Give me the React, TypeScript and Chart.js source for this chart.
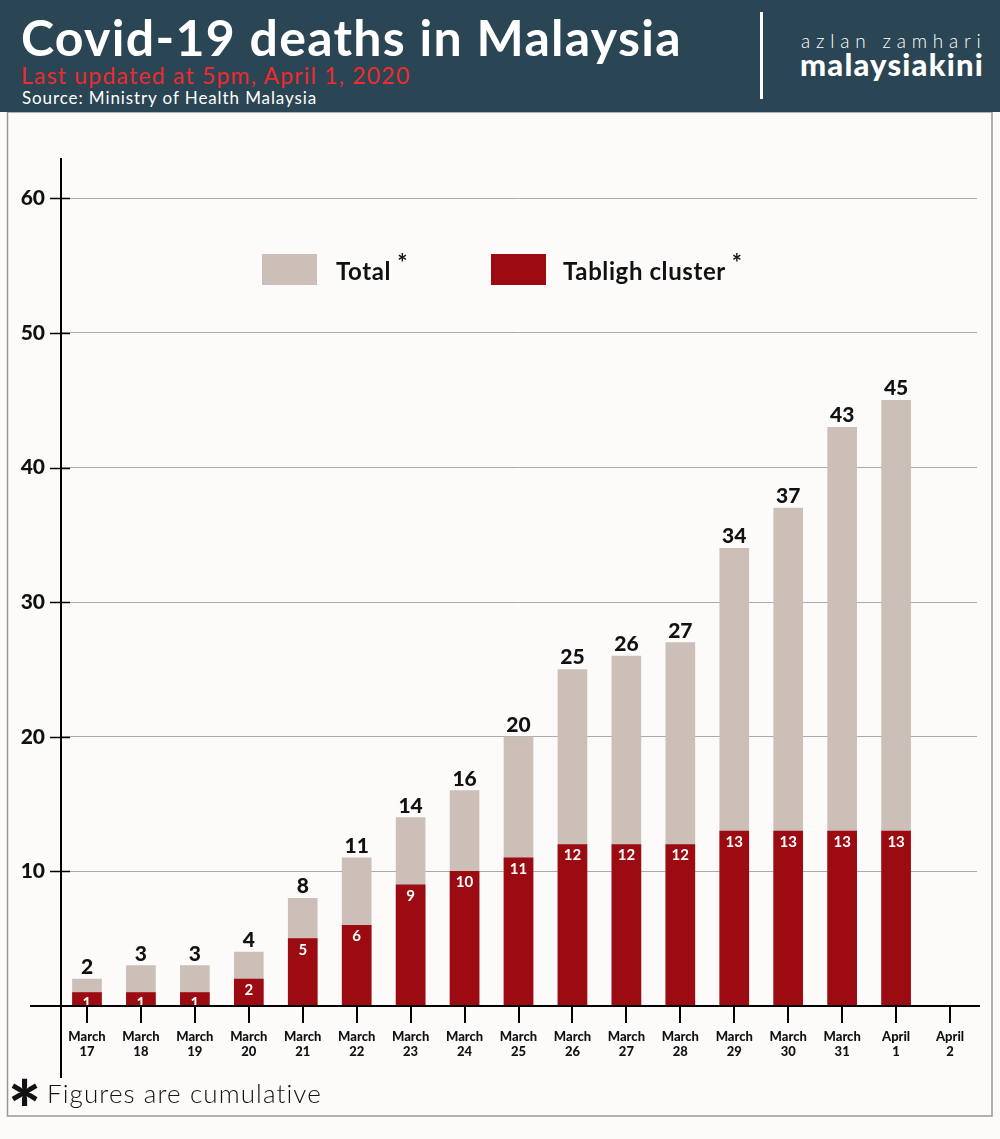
import React, { useEffect, useRef } from "react";
import { Chart, registerables } from "chart.js";

Chart.register(...registerables);

const months = ["March", "March", "March", "March", "March", "March", "March", "March", "March", "March", "March", "March", "March", "March", "March", "April", "April"];
const days = ["17", "18", "19", "20", "21", "22", "23", "24", "25", "26", "27", "28", "29", "30", "31", "1", "2"];
const totalDeaths = [2, 3, 3, 4, 8, 11, 14, 16, 20, 25, 26, 27, 34, 37, 43, 45, null];
const tablighDeaths = [1, 1, 1, 2, 5, 6, 9, 10, 11, 12, 12, 12, 13, 13, 13, 13, null];
const yTicks = [0, 10, 20, 30, 40, 50, 60];

const FONT = "Lato, 'Open Sans', sans-serif";
const GREY = "#cbbfb8";
const RED = "#9b0b11";

const overlayPlugin = {
  id: "overlay",
  beforeDraw(chart: any) {
    const ctx = chart.ctx;
    ctx.save();
    ctx.strokeStyle = "#999";
    ctx.lineWidth = 1.5;
    ctx.strokeRect(7.5, 112, 984.5, 1004);
    ctx.restore();
  },
  afterDatasetsDraw(chart: any) {
    const ctx = chart.ctx;
    const metaT = chart.getDatasetMeta(1);
    const metaR = chart.getDatasetMeta(0);
    ctx.save();
    ctx.textAlign = "center";
    metaT.data.forEach((bar: any, i: number) => {
      const v = totalDeaths[i];
      if (v == null) return;
      ctx.fillStyle = "#111";
      ctx.font = `900 21px ${FONT}`;
      ctx.textBaseline = "alphabetic";
      ctx.fillText(String(v), bar.x, bar.y - 5);
    });
    metaR.data.forEach((bar: any, i: number) => {
      const v = tablighDeaths[i];
      if (v == null) return;
      ctx.fillStyle = "#fff";
      ctx.font = `bold 15px ${FONT}`;
      ctx.textBaseline = "middle";
      ctx.fillText(String(v), bar.x, bar.y + 11);
    });
    ctx.restore();
  },
  afterDraw(chart: any) {
    const ctx = chart.ctx;
    const { left, bottom, top } = chart.chartArea;
    const x = chart.scales.x;
    const y = chart.scales.y;
    ctx.save();
    ctx.strokeStyle = "#000";
    ctx.lineWidth = 2;
    ctx.beginPath();
    ctx.moveTo(left + 1, top);
    ctx.lineTo(left + 1, 1078);
    ctx.stroke();
    ctx.beginPath();
    ctx.moveTo(30, bottom);
    ctx.lineTo(980, bottom);
    ctx.stroke();
    yTicks.forEach((t) => {
      if (t === 0) return;
      const py = Math.round(y.getPixelForValue(t)) + 0.5;
      ctx.lineWidth = 1.5;
      ctx.beginPath();
      ctx.moveTo(50, py);
      ctx.lineTo(70, py);
      ctx.stroke();
    });
    ctx.lineWidth = 2;
    days.forEach((_, i) => {
      const px = Math.round(x.getPixelForValue(i));
      ctx.beginPath();
      ctx.moveTo(px, bottom);
      ctx.lineTo(px, bottom + 17);
      ctx.stroke();
    });
    const ds = chart.data.datasets;
    const items = [
      { d: ds[1], box: 262, text: 336 },
      { d: ds[0], box: 491, text: 563 },
    ];
    items.forEach((it) => {
      ctx.fillStyle = it.d.backgroundColor;
      ctx.fillRect(it.box, 254, 55, 31);
      ctx.fillStyle = "#111";
      ctx.font = `bold 24px ${FONT}`;
      (ctx as any).letterSpacing = "0.6px";
      ctx.textAlign = "left";
      ctx.textBaseline = "alphabetic";
      ctx.fillText(it.d.label, it.text, 280);
      const w = ctx.measureText(it.d.label).width;
      (ctx as any).letterSpacing = "0px";
      ctx.font = `bold 24px ${FONT}`;
      ctx.fillText("*", it.text + w + 6, 272);
    });
    ctx.restore();
  },
};

export default function App() {
  const ref = useRef<HTMLCanvasElement | null>(null);

  useEffect(() => {
    document.body.style.margin = "0";
    document.body.style.background = "#fdfbfa";
    const labels = months.map((m, i) => [m, days[i]]);
    const chart = new Chart(ref.current as HTMLCanvasElement, {
      type: "bar",
      data: {
        labels,
        datasets: [
          {
            label: "Tabligh cluster",
            data: tablighDeaths,
            backgroundColor: RED,
            grouped: false,
            order: 0,
            barThickness: 29,
          } as any,
          {
            label: "Total",
            data: totalDeaths,
            backgroundColor: GREY,
            grouped: false,
            order: 1,
            barThickness: 29,
          } as any,
        ],
      },
      options: {
        animation: false,
        responsive: false,
        maintainAspectRatio: false,
        layout: { padding: { left: 0, right: 23, top: 158, bottom: 0 } },
        plugins: { legend: { display: false }, tooltip: { enabled: false } },
        scales: {
          x: {
            grid: { display: false, drawTicks: false },
            border: { display: false },
            ticks: {
              color: "#111",
              font: { family: FONT, weight: "900", size: 13, lineHeight: 1.1 },
              padding: 24,
              maxRotation: 0,
              autoSkip: false,
            },
            afterFit: (s: any) => {
              s.height = 133;
            },
          },
          y: {
            min: 0,
            max: 63,
            grid: {
              drawTicks: false,
              color: (c: any) => (c.tick && c.tick.value > 0 ? "#aaa" : "rgba(0,0,0,0)"),
              lineWidth: 1,
            },
            border: { display: false },
            ticks: {
              stepSize: 10,
              includeBounds: false,
              color: "#111",
              font: { family: FONT, weight: "900", size: 21 },
              padding: 15,
              callback: (v: any) => (v === 0 ? "" : v % 10 === 0 ? String(v) : ""),
            },
            afterFit: (s: any) => {
              s.width = 60;
            },
          },
        },
      },
      plugins: [overlayPlugin],
    });
    return () => chart.destroy();
  }, []);

  return (
    <div style={{ position: "absolute", left: 0, top: 0, width: 1000, height: 1139, background: "#fdfbfa", overflow: "hidden" }}>
      <canvas ref={ref} width={1000} height={1139} style={{ position: "absolute", left: 0, top: 0, width: 1000, height: 1139 }} />
      <div style={{ position: "absolute", left: 0, top: 0, width: 1000, height: 112, background: "#2a4553", fontFamily: FONT }}>
        <div style={{ position: "absolute", left: 21, top: 8, color: "#fff", fontWeight: 700, fontSize: 50, letterSpacing: 1.3, lineHeight: "58px", whiteSpace: "nowrap" }}>
          Covid-19 deaths in Malaysia
        </div>
        <div style={{ position: "absolute", left: 21, top: 61, color: "#ee2b2e", fontWeight: 400, fontSize: 23, letterSpacing: 1.2, lineHeight: "28px", whiteSpace: "nowrap" }}>
          Last updated at 5pm, April 1, 2020
        </div>
        <div style={{ position: "absolute", left: 22, top: 87, color: "#fff", fontWeight: 400, fontSize: 17, letterSpacing: 0.9, lineHeight: "21px", whiteSpace: "nowrap" }}>
          Source: Ministry of Health Malaysia
        </div>
        <div style={{ position: "absolute", left: 760, top: 12, width: 3, height: 87, background: "#fff" }} />
        <div style={{ position: "absolute", left: 801, top: 29, color: "#fff", fontWeight: 300, fontSize: 19, letterSpacing: 5.8, lineHeight: "24px", whiteSpace: "nowrap" }}>
          azlan zamhari
        </div>
        <div style={{ position: "absolute", left: 800, top: 46, color: "#fff", fontWeight: 900, fontSize: 31, letterSpacing: 1.2, lineHeight: "36px", whiteSpace: "nowrap" }}>
          malaysiakini
        </div>
      </div>
      <div style={{ position: "absolute", left: 8, top: 1069, color: "#111", fontFamily: FONT, fontWeight: 900, fontSize: 78, lineHeight: "78px" }}>
        *
      </div>
      <div style={{ position: "absolute", left: 47, top: 1077, color: "#111", fontFamily: FONT, fontWeight: 300, fontSize: 26, letterSpacing: 1.1, lineHeight: "32px", whiteSpace: "nowrap" }}>
        Figures are cumulative
      </div>
    </div>
  );
}
